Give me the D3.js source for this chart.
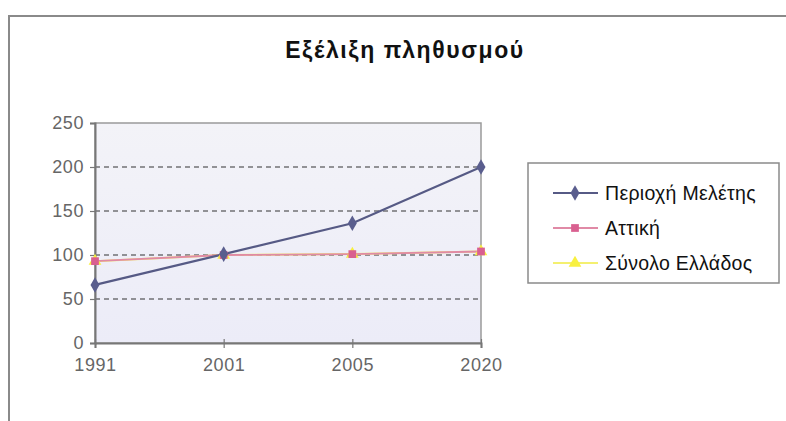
<!DOCTYPE html>
<html>
<head>
<meta charset="utf-8">
<script src="https://cdn.jsdelivr.net/npm/d3@7"></script>
<style>
  body { margin: 0; background: #fff; }
  text { font-family: "Liberation Sans", Arial, sans-serif; }
</style>
</head>
<body>
<div id="chart"></div>
<script>
// data
var years = ["1991", "2001", "2005", "2020"];
var periochi = [66, 101, 136, 200];
var attiki = [93, 100, 101, 104];
var ellada = [93, 100, 101, 104];
var seriesNames = ["Περιοχή Μελέτης", "Αττική", "Σύνολο Ελλάδος"];
var yTicks = [0, 50, 100, 150, 200, 250];

var width = 786, height = 421;
var margin = {top: 123, right: 305, bottom: 78, left: 95};

var svg = d3.select("#chart").append("svg")
    .attr("width", width)
    .attr("height", height);

// outer chart frame (only top and left edge visible)
svg.append("path")
    .attr("d", "M9,421 V16 H786")
    .attr("fill", "none")
    .attr("stroke", "#8a8a8a")
    .attr("stroke-width", 2);

svg.append("text")
    .attr("x", 405)
    .attr("y", 58)
    .attr("text-anchor", "middle")
    .style("font-size", "23px")
    .style("font-weight", "bold")
    .style("letter-spacing", "1.6px")
    .attr("fill", "#111")
    .text("Εξέλιξη πληθυσμού");

var x = d3.scalePoint()
    .domain(years)
    .range([margin.left, width - margin.right]);

var y = d3.scaleLinear()
    .domain([0, 250])
    .range([height - margin.bottom, margin.top]);

// plot background
var defs = svg.append("defs");
var grad = defs.append("linearGradient")
    .attr("id", "bg").attr("x1", 0).attr("y1", 0).attr("x2", 0).attr("y2", 1);
grad.append("stop").attr("offset", "0%").attr("stop-color", "#f3f3f8");
grad.append("stop").attr("offset", "100%").attr("stop-color", "#ececf8");

svg.append("rect")
    .attr("x", x.range()[0])
    .attr("y", y(250))
    .attr("width", x.range()[1] - x.range()[0])
    .attr("height", y(0) - y(250))
    .attr("fill", "url(#bg)")
    .attr("stroke", "#9a9a9a")
    .attr("stroke-width", 1.5);

// dashed gridlines
svg.append("g")
  .selectAll("line")
  .data(yTicks.filter(function(d) { return d > 0 && d < 250; }))
  .enter().append("line")
    .attr("x1", x.range()[0])
    .attr("x2", x.range()[1])
    .attr("y1", function(d) { return y(d); })
    .attr("y2", function(d) { return y(d); })
    .attr("stroke", "#333")
    .attr("stroke-width", 1.2)
    .attr("stroke-dasharray", "5,4");

// axes
var yAxis = svg.append("g")
    .attr("transform", "translate(" + margin.left + ",0)")
    .call(d3.axisLeft(y).tickValues(yTicks).tickSize(5).tickPadding(6));
var xAxis = svg.append("g")
    .attr("transform", "translate(0," + y(0) + ")")
    .call(d3.axisBottom(x).tickSize(5).tickPadding(10));

[yAxis, xAxis].forEach(function(a) {
  a.select(".domain").attr("stroke", "#777").attr("stroke-width", 2);
  a.selectAll(".tick line").attr("stroke", "#777").attr("stroke-width", 1.2);
  a.selectAll("text")
    .attr("fill", "#666")
    .style("font-size", "18px")
    .style("letter-spacing", "0.6px")
    .style("font-family", "'Liberation Sans', Arial, sans-serif");
});
xAxis.selectAll(".tick line").attr("y1", -4);

var series = [
  {name: seriesNames[0], values: periochi, color: "#565a85", marker: d3.symbolDiamond, mcolor: "#5a5e8e", width: 2.2, msize: 70},
  {name: seriesNames[1], values: attiki, color: "#e08aa6", marker: d3.symbolSquare, mcolor: "#d96090", width: 1.8, msize: 60},
  {name: seriesNames[2], values: ellada, color: "#f4f070", marker: d3.symbolTriangle, mcolor: "#f8f040", width: 2, msize: 70}
];

var line = d3.line()
    .x(function(d, i) { return x(years[i]); })
    .y(function(d) { return y(d); });

// draw back to front: Ελλάδα over Αττική, Περιοχή on top
series.slice().reverse().forEach(function(s) {
  svg.append("path")
    .datum(s.values)
    .attr("fill", "none")
    .attr("stroke", s.color)
    .attr("stroke-width", s.width)
    .attr("d", line);
});
series.slice().reverse().forEach(function(s) {
  svg.append("g")
    .selectAll("path")
    .data(s.values)
    .enter().append("path")
      .attr("transform", function(d, i) { return "translate(" + x(years[i]) + "," + y(d) + ")"; })
      .attr("d", d3.symbol().type(s.marker).size(s.msize))
      .attr("fill", s.mcolor);
});

// legend
var lg = svg.append("g").attr("transform", "translate(528,163)");
lg.append("rect")
    .attr("width", 251)
    .attr("height", 120)
    .attr("fill", "#fff")
    .attr("stroke", "#8a8a8a")
    .attr("stroke-width", 1.5);

var item = lg.selectAll(".item")
    .data(series)
    .enter().append("g")
    .attr("transform", function(d, i) { return "translate(0," + (30 + i * 35) + ")"; });

item.append("line")
    .attr("x1", 25).attr("x2", 70)
    .attr("stroke", function(d) { return d.color; })
    .attr("stroke-width", function(d) { return d.width; });
item.append("path")
    .attr("transform", "translate(47,0)")
    .attr("d", function(d) { return d3.symbol().type(d.marker).size(d.msize)(); })
    .attr("fill", function(d) { return d.mcolor; });
item.append("text")
    .attr("x", 77)
    .attr("dy", "0.35em")
    .style("font-size", "19.5px")
    .style("letter-spacing", "0.3px")
    .attr("fill", "#111")
    .text(function(d) { return d.name; });
</script>
</body>
</html>
